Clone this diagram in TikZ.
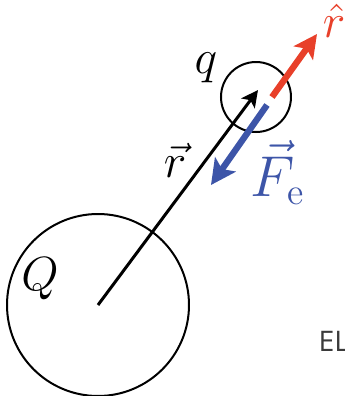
\documentclass[tikz,border=0pt]{standalone}
\usepackage{amsmath}
\usepackage{tikz}
\usepackage{fontspec}
\usetikzlibrary{
  arrows.meta,
  positioning,
  calc
}
\newfontfamily\elfont{Open Sans}
\definecolor{elRed}{HTML}{E8402A}
\definecolor{elBlue}{HTML}{3D55A8}
\definecolor{elGray}{HTML}{3A3A3A}

\begin{document}
\begin{tikzpicture}[x=0.3pt, y=-0.3pt,
  charge/.style={circle, draw, line width=0.6pt, inner sep=0pt},
  lbl/.style={font=\fontsize{13.5}{15}\selectfont, inner sep=0pt},
  biglbl/.style={font=\fontsize{16}{18}\selectfont, inner sep=0pt}]
  \useasboundingbox (0,0) rectangle (345,396);
  \node[charge, minimum size=54.6pt] (Qc) at (98,305) {};
  \node[charge, minimum size=21pt] (qc) at (256,97) {};
  \coordinate (rtip) at (258,90);
  \coordinate (redS) at (272,97);
  \coordinate (redE) at (317,34);
  \coordinate (blueS) at (267,105);
  \coordinate (blueE) at (211,185);
  \draw[line width=0.9pt, -{Stealth[length=5pt, width=5pt, inset=1.2pt]}] (Qc.center) -- (rtip);
  \draw[elRed, line width=1.9pt, -{Stealth[length=7pt, width=7pt, inset=1.6pt]}] (redS) -- (redE);
  \draw[elBlue, line width=1.9pt, -{Stealth[length=7.5pt, width=7.5pt, inset=1.7pt]}] (blueS) -- (blueE);
  % labels
  \node[lbl] (Qlbl) at (40,279) {$Q$};
  \node[lbl] (qlbl) at (206,68) {$q$};
  \node[lbl] (rlbl) at (175,160) {$\vec{r}$};
  \node[lbl, font=\fontsize{14.5}{16}\selectfont, elRed] (rhat) at (334,21) {$\hat{r}$};
  \node[biglbl, elBlue] (Flbl) at (278,173) {$\vec{F}_{\mathrm{e}}$};
  \node[font=\elfont\fontsize{8.5}{10}\selectfont, elGray, anchor=west, inner sep=0pt] (el) at (318,341) {EL};
\end{tikzpicture}
\end{document}
